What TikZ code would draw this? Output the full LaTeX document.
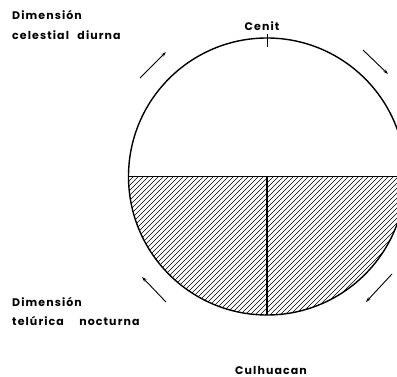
\documentclass[tikz,border=0pt]{standalone}
\usepackage{fontspec}
\setmainfont{Poppins}[LetterSpace=10]
\usetikzlibrary{arrows.meta}
\tikzset{
  lbl/.style={font=\fontsize{11}{12}\selectfont\bfseries, inner sep=0pt, anchor=west},
  rim/.style={line width=1.4pt},
  hatch/.style={line width=0.7pt},
  motion/.style={line width=0.9pt, -{Stealth[length=5pt,width=3.2pt]}}
}
\begin{document}
\begin{tikzpicture}[x=1pt,y=-1pt]
\useasboundingbox (0,0) rectangle (397,377);
% hatching of lower half
\begin{scope}
  \clip (0,176.5) rectangle (397,377);
  \clip (267,176.5) circle[radius=138.5];
  \foreach \i in {100,105,...,580} {
    \draw[hatch] (\i-160,330) -- (\i,170);
  }
\end{scope}
% circle and lines
\node[circle, draw, rim, minimum size=277pt, inner sep=0pt] (sky) at (267,176.5) {};
\coordinate (west) at (128.5,176.5);
\coordinate (east) at (405.5,176.5);
\coordinate (ctr) at (267,176.5);
\coordinate (nadir) at (267,315);
\draw[line width=1pt] (west) -- (east);
\draw[line width=1.1pt] (ctr) -- (nadir);
\coordinate (tickA) at (267,34.5);
\coordinate (tickB) at (267,47.5);
\draw[line width=0.8pt] (tickA) -- (tickB);
% arrows
\coordinate (a1s) at (140,78); \coordinate (a1e) at (166,52);
\coordinate (a2s) at (363,50); \coordinate (a2e) at (388,74);
\coordinate (a3s) at (166,302); \coordinate (a3e) at (142,277);
\coordinate (a4s) at (392,274); \coordinate (a4e) at (366,302);
\draw[motion] (a1s) -- (a1e);
\draw[motion] (a2s) -- (a2e);
\draw[motion] (a3s) -- (a3e);
\draw[motion] (a4s) -- (a4e);
% labels
\node[lbl] (d1) at (12,15) {Dimensión};
\node[lbl] (d2) at (12,35) {celestial\hspace{5pt} diurna};
\node[lbl, anchor=center] (cenit) at (262,26) {Cenit};
\node[lbl] (d3) at (12,302) {Dimensión};
\node[lbl] (d4) at (12,321) {telúrica\hspace{12pt} nocturna};
\node[lbl, anchor=center] (culh) at (271,370) {Culhuacan};
\end{tikzpicture}
\end{document}
